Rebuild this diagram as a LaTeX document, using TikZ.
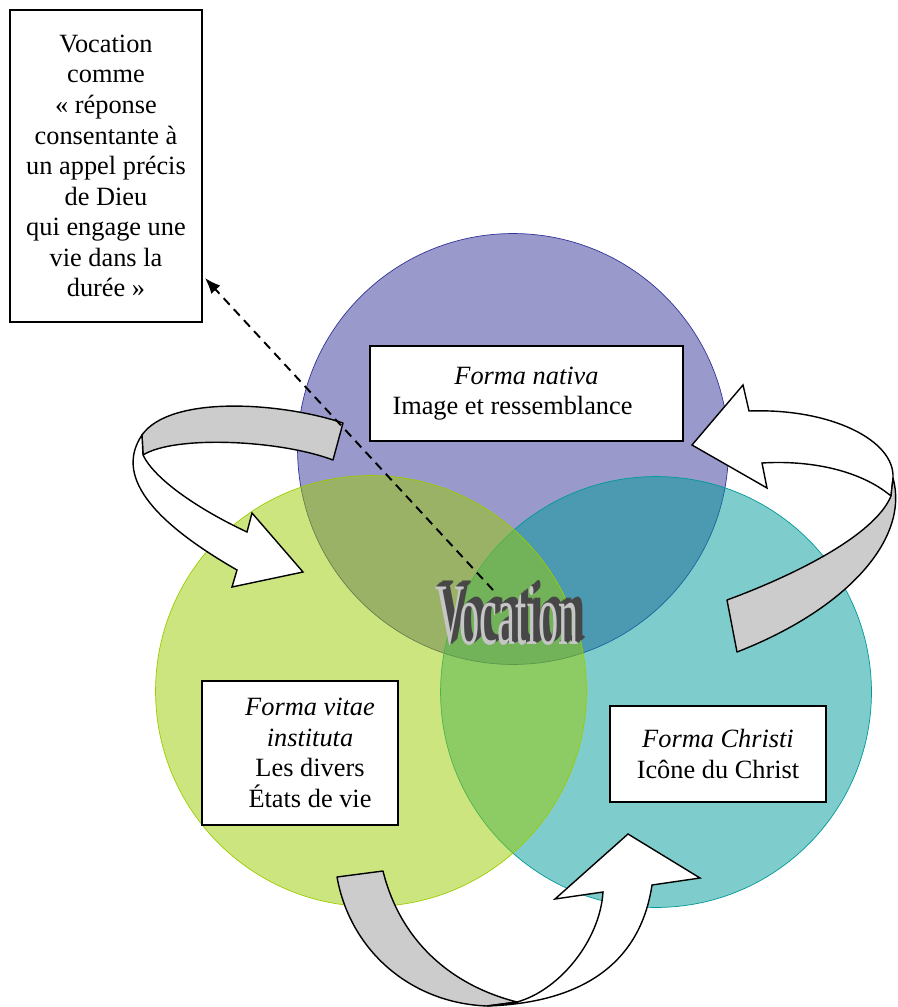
\documentclass[tikz,border=0pt]{standalone}
\usepackage{fontspec}
\setmainfont{Liberation Serif}
\usetikzlibrary{arrows.meta,positioning}

\definecolor{nativacol}{RGB}{51,51,153}
\definecolor{vitaecol}{RGB}{155,204,0}
\definecolor{christicol}{RGB}{0,153,153}

% stacked copies give the word its depth
\newcommand\extrudedword[1]{%
  \foreach \k in {8,...,1}{%
    \makebox[0pt][l]{\color{black!72}\kern\dimexpr 1.05pt*\k\relax\raisebox{\dimexpr 0.38pt*\k\relax}{#1}}}%
  {\color{gray!45}#1}}
\newcommand\pushr{\hspace*{0.4cm}}

\tikzset{
  venn/.style={circle, minimum size=8.62cm, inner sep=0pt, fill opacity=0.5, line width=0.4pt},
  txtbox/.style={draw=black, line width=0.8pt, fill=white, align=center, inner sep=2pt,
    font=\fontsize{15}{17.4}\selectfont},
  ribbonback/.style={draw=black, line width=0.8pt, fill=gray!40, line join=round},
  ribbonfront/.style={draw=black, line width=0.8pt, fill=white, line join=miter},
  vocart/.style={font=\fontsize{50}{50}\selectfont, xscale=0.46, transform shape, inner sep=0pt}
}

\begin{document}
\begin{tikzpicture}[x=0.02cm, y=-0.02cm]
\useasboundingbox (0,0) rectangle (898,1007);

% the three circles
\node[venn, fill=nativacol, draw=nativacol] (cnativa) at (513,449) {};
\node[venn, fill=christicol, draw=christicol] (cchristi) at (656,692) {};
\node[venn, fill=vitaecol, draw=vitaecol] (cvitae) at (371,691) {};

% ribbon arrows
\draw[ribbonback] (142,435) .. controls (170,395) and (280,402) .. (343,423)
  -- (333,460) .. controls (280,440) and (175,435) .. (143,455) -- cycle;
\draw[ribbonfront] (142,435) .. controls (115,475) and (150,520) .. (237,570)
  -- (232,587) -- (303,572) -- (252,513) -- (247,532)
  .. controls (200,510) and (155,480) .. (143,455) -- cycle;

\draw[ribbonfront] (749,411) .. controls (830,408) and (895,440) .. (893,478)
  -- (891,496) .. controls (860,470) and (810,460) .. (762,463)
  -- (767,488) -- (692,445) -- (743,385) -- cycle;
\draw[ribbonback] (893,478) .. controls (910,540) and (845,610) .. (737,652)
  -- (727,600) .. controls (795,575) and (875,535) .. (891,496) -- cycle;

\draw[ribbonback] (337,877) .. controls (350,950) and (410,1003) .. (487,1006)
  -- (517,1002) .. controls (450,985) and (400,940) .. (383,871) -- cycle;
\draw[ribbonfront] (517,1002) .. controls (560,990) and (600,940) .. (603,892)
  -- (555,899) -- (628,834) -- (700,878) -- (652,885)
  .. controls (640,965) and (580,1003) .. (487,1006) -- cycle;

% text boxes
\node[txtbox, minimum width=3.84cm, minimum height=6.24cm] (vocbox) at (106,166)
  {Vocation\\comme\\« réponse\\consentante à\\un appel précis\\de Dieu\\qui engage une\\vie dans la\\durée »};
\node[txtbox, minimum width=6.26cm, minimum height=1.9cm] (nativa) at (526.5,393.5)
  {\textit{Forma nativa}\\Image et ressemblance\hspace*{0.56cm}};
\node[txtbox, minimum width=3.92cm, minimum height=2.88cm] (vitae) at (300,753)
  {\pushr\textit{Forma vitae}\\\pushr\textit{instituta}\\\pushr Les divers\\\pushr États de vie};
\node[txtbox, minimum width=4.32cm, minimum height=1.92cm] (christi) at (718,754)
  {\textit{Forma Christi}\\Icône du Christ};

% dashed link to the left box
\coordinate (dashstart) at (493,590);
\coordinate (dashtip) at (205,278);
\draw[line width=1.1pt, dash pattern=on 5pt off 3.5pt, -{Latex[length=9pt,width=7pt]}]
  (dashstart) -- (dashtip);

% word art
\node[vocart] (vocword) at (507,613) {\extrudedword{Vocation}};

\end{tikzpicture}
\end{document}
